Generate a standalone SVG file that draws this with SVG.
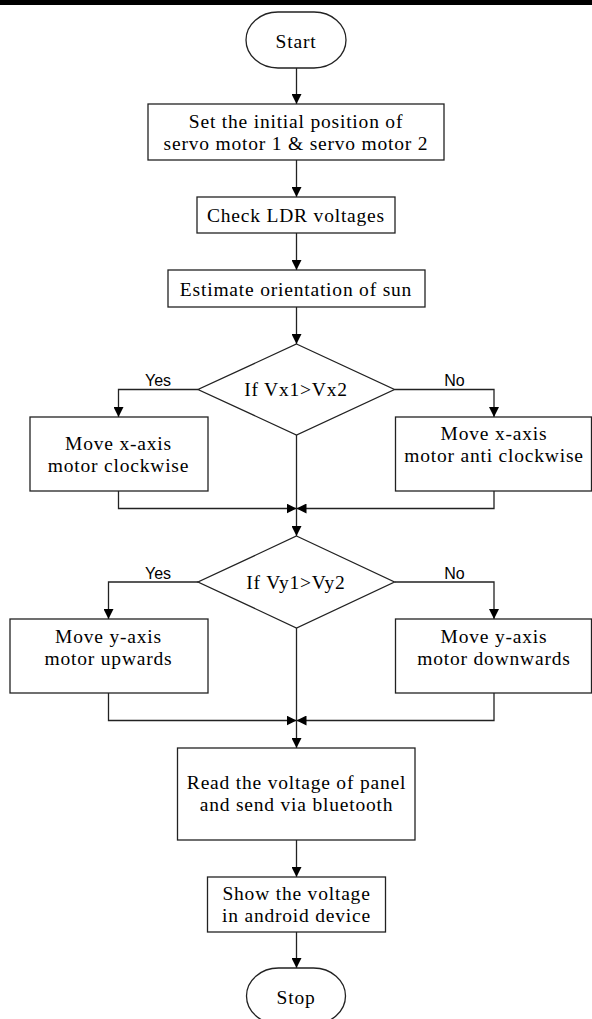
<svg xmlns="http://www.w3.org/2000/svg" width="592" height="1019" viewBox="0 0 592 1019">
<defs>
<marker id="ah" viewBox="0 0 10 10" refX="10" refY="5" markerWidth="10" markerHeight="10" markerUnits="userSpaceOnUse" orient="auto">
<path d="M0,0 L10,5 L0,10 Z" fill="#000"/>
</marker>
</defs>
<style>
.s{fill:#fff;stroke:#222;stroke-width:1.3}
.t{font-family:"Liberation Serif","Times New Roman",serif;font-size:19.5px;letter-spacing:0.8px;fill:#000;text-anchor:middle}
.l{font-family:"Liberation Sans",Arial,sans-serif;font-size:16px;fill:#000;text-anchor:middle}
.c{fill:none;stroke:#222;stroke-width:1.3}
</style>
<rect x="0" y="0" width="592" height="5" fill="#000"/>
<g id="connectors">
<path class="c" d="M296.5,68 V104" marker-end="url(#ah)"/>
<path class="c" d="M296.5,160 V197" marker-end="url(#ah)"/>
<path class="c" d="M296.5,233 V270" marker-end="url(#ah)"/>
<path class="c" d="M296.5,307 V344" marker-end="url(#ah)"/>
<path class="c" d="M198,389.5 H118.5 V417" marker-end="url(#ah)"/>
<path class="c" d="M394.5,389.5 H494 V417" marker-end="url(#ah)"/>
<path class="c" d="M118.5,491 V508.5 H296.5" marker-end="url(#ah)"/>
<path class="c" d="M494,491 V508.5 H296.5" marker-end="url(#ah)"/>
<path class="c" d="M296.5,435 V536" marker-end="url(#ah)"/>
<path class="c" d="M198,582 H108.5 V619" marker-end="url(#ah)"/>
<path class="c" d="M394.5,582 H494 V619" marker-end="url(#ah)"/>
<path class="c" d="M108.5,693 V720.5 H296.5" marker-end="url(#ah)"/>
<path class="c" d="M494,693 V720.5 H296.5" marker-end="url(#ah)"/>
<path class="c" d="M296.5,628 V748" marker-end="url(#ah)"/>
<path class="c" d="M296.5,840 V877" marker-end="url(#ah)"/>
<path class="c" d="M296.5,932 V968" marker-end="url(#ah)"/>
<text class="l" x="158" y="385.5">Yes</text>
<text class="l" x="454.5" y="385.5">No</text>
<text class="l" x="158" y="578.5">Yes</text>
<text class="l" x="454.5" y="578.5">No</text>
</g>
<g id="start">
<rect class="s" x="246" y="12" width="100" height="56" rx="32" ry="28"/>
<text class="t" x="296" y="47.5">Start</text>
</g>
<g id="init">
<rect class="s" x="148" y="104" width="296" height="56"/>
<text class="t" x="296" y="127.5">Set the initial position of</text>
<text class="t" x="296" y="149.5">servo motor 1 &amp; servo motor 2</text>
</g>
<g id="check">
<rect class="s" x="197" y="197" width="198" height="36"/>
<text class="t" x="296" y="221.5">Check LDR voltages</text>
</g>
<g id="estimate">
<rect class="s" x="168" y="270" width="257" height="37"/>
<text class="t" x="296" y="295.5">Estimate orientation of sun</text>
</g>
<g id="dx">
<polygon class="s" points="296.5,344 394.5,389.5 296.5,435 198,389.5"/>
<text class="t" x="296" y="396">If Vx1&gt;Vx2</text>
</g>
<g id="xcw">
<rect class="s" x="30" y="417" width="178" height="74"/>
<text class="t" x="118.5" y="449.5">Move x-axis</text>
<text class="t" x="118.5" y="471.5">motor clockwise</text>
</g>
<g id="xacw">
<rect class="s" x="395.5" y="417" width="196" height="74"/>
<text class="t" x="494" y="439.5">Move x-axis</text>
<text class="t" x="494" y="461.5">motor anti clockwise</text>
</g>
<g id="dy">
<polygon class="s" points="296.5,536 394.5,582 296.5,628 198,582"/>
<text class="t" x="296" y="589">If Vy1&gt;Vy2</text>
</g>
<g id="yup">
<rect class="s" x="10" y="619" width="198" height="74"/>
<text class="t" x="108.5" y="642.5">Move y-axis</text>
<text class="t" x="108.5" y="664.5">motor upwards</text>
</g>
<g id="ydown">
<rect class="s" x="395.5" y="619" width="196" height="74"/>
<text class="t" x="494" y="642.5">Move y-axis</text>
<text class="t" x="494" y="664.5">motor downwards</text>
</g>
<g id="read">
<rect class="s" x="177.5" y="748" width="237.5" height="92"/>
<text class="t" x="296.5" y="788.5">Read the voltage of panel</text>
<text class="t" x="296.5" y="810.5">and send via bluetooth</text>
</g>
<g id="show">
<rect class="s" x="207.5" y="877" width="178" height="55"/>
<text class="t" x="296.5" y="899.5">Show the voltage</text>
<text class="t" x="296.5" y="921.5">in android device</text>
</g>
<g id="stop">
<rect class="s" x="246.5" y="968" width="99" height="56" rx="32" ry="28"/>
<text class="t" x="296" y="1003.5">Stop</text>
</g>
</svg>
